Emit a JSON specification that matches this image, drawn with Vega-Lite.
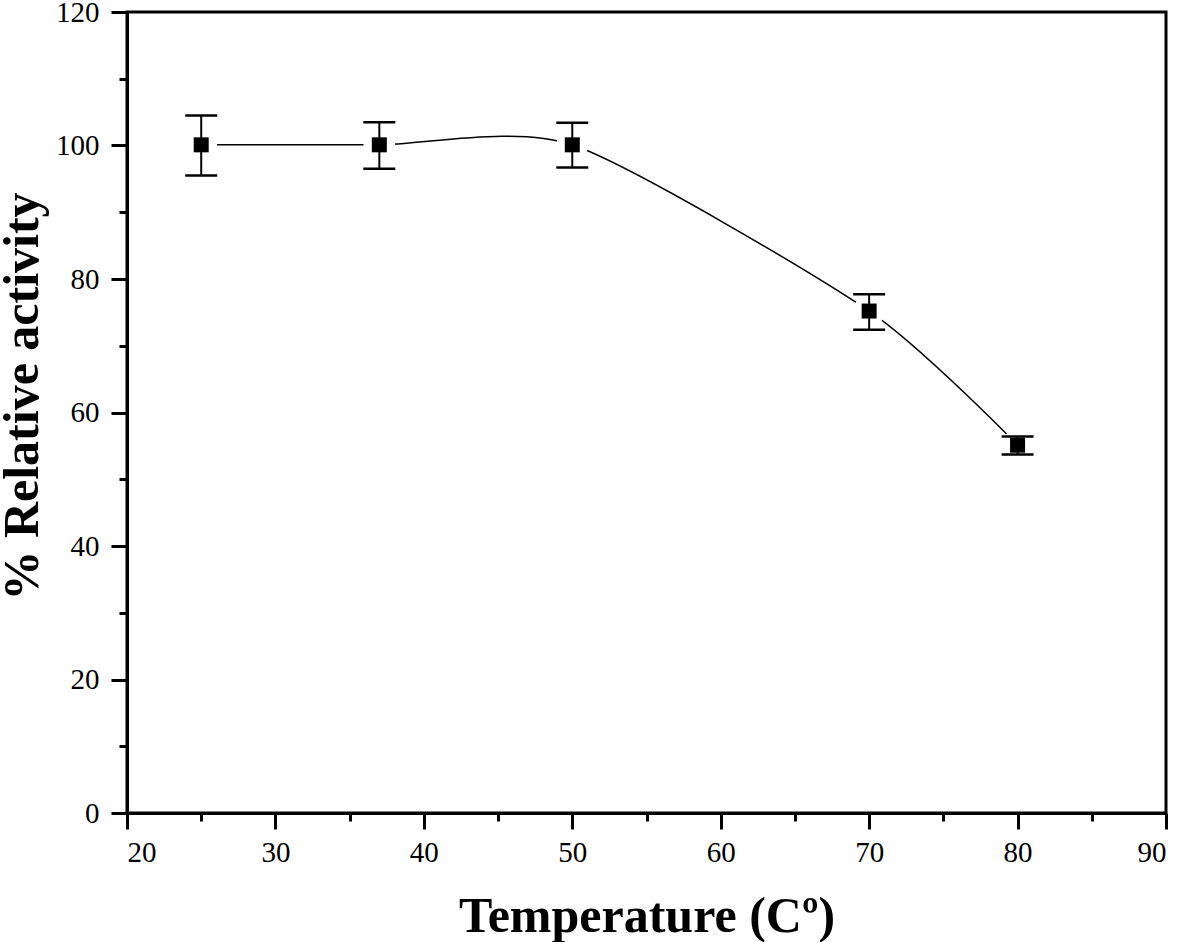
{
  "$schema": "https://vega.github.io/schema/vega-lite/v6.json",
  "width": 1039,
  "height": 801,
  "autosize": "none",
  "padding": {"left": 127, "top": 12, "right": 15, "bottom": 129},
  "background": "white",
  "config": {
    "view": {"stroke": "black", "strokeWidth": 3},
    "axis": {
      "domainColor": "black", "domainWidth": 3, "tickColor": "black", "tickWidth": 3, "tickSize": 16,
      "labelFont": "Liberation Serif", "labelFontSize": 29, "labelColor": "black",
      "titleFont": "Liberation Serif", "titleFontSize": 50, "titleFontWeight": "bold", "titleColor": "black",
      "grid": false
    }
  },
  "data": {"values": [
    {"temp": 25, "act": 100.1, "lo": 95.5, "hi": 104.5},
    {"temp": 37, "act": 100.1, "lo": 96.5, "hi": 103.5},
    {"temp": 50, "act": 100.1, "lo": 96.7, "hi": 103.4},
    {"temp": 70, "act": 75.2, "lo": 72.4, "hi": 77.7},
    {"temp": 80, "act": 55.1, "lo": 53.7, "hi": 56.4}
  ]},
  "resolve": {"axis": {"x": "independent", "y": "independent"}},
  "layer": [
    {
      "mark": {"type": "line", "interpolate": "cardinal", "tension": 0.3, "stroke": "black", "strokeWidth": 1.5},
      "encoding": {
        "x": {"field": "temp", "type": "quantitative", "scale": {"domain": [20, 90], "nice": false, "zero": false},
              "axis": {"orient": "bottom", "values": [20, 30, 40, 50, 60, 70, 80, 90], "labelPadding": 9, "title": "Temperature (Cº)", "titleBaseline": "alphabetic", "titleY": 118, "titleAlign": "center"}},
        "y": {"field": "act", "type": "quantitative", "scale": {"domain": [0, 120], "nice": false},
              "axis": {"orient": "left", "values": [0, 20, 40, 60, 80, 100, 120], "labelPadding": 12, "title": "% Relative activity", "titleAngle": 270, "titleBaseline": "alphabetic", "titleAlign": "center", "titleX": -90, "titleY": 384}}
      }
    },
    {
      "mark": {"type": "point", "shape": "circle", "filled": true, "fill": "white", "opacity": 1, "size": 1000, "strokeWidth": 0},
      "encoding": {
        "x": {"field": "temp", "type": "quantitative",
              "axis": {"orient": "bottom", "values": [25, 35, 45, 55, 65, 75, 85], "tickSize": 8, "labels": false, "domain": false, "title": null}},
        "y": {"field": "act", "type": "quantitative",
              "axis": {"orient": "left", "values": [10, 30, 50, 70, 90, 110], "tickSize": 8, "labels": false, "domain": false, "title": null}}
      }
    },
    {
      "mark": {"type": "rule", "stroke": "black", "strokeWidth": 2},
      "encoding": {
        "x": {"field": "temp", "type": "quantitative", "axis": null},
        "y": {"field": "lo", "type": "quantitative", "axis": null},
        "y2": {"field": "hi"}
      }
    },
    {
      "mark": {"type": "tick", "orient": "horizontal", "size": 32, "thickness": 2.5, "color": "black", "opacity": 1},
      "encoding": {
        "x": {"field": "temp", "type": "quantitative", "axis": null},
        "y": {"field": "lo", "type": "quantitative", "axis": null}
      }
    },
    {
      "mark": {"type": "tick", "orient": "horizontal", "size": 32, "thickness": 2.5, "color": "black", "opacity": 1},
      "encoding": {
        "x": {"field": "temp", "type": "quantitative", "axis": null},
        "y": {"field": "hi", "type": "quantitative", "axis": null}
      }
    },
    {
      "mark": {"type": "point", "shape": "square", "filled": true, "fill": "black", "opacity": 1, "size": 225, "strokeWidth": 0},
      "encoding": {
        "x": {"field": "temp", "type": "quantitative", "axis": null},
        "y": {"field": "act", "type": "quantitative", "axis": null}
      }
    }
  ]
}
